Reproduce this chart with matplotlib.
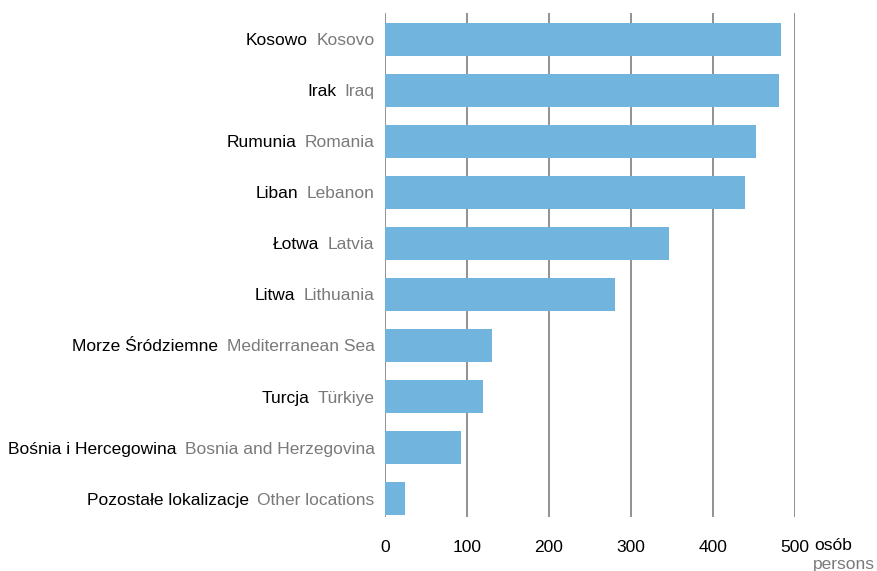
import matplotlib.pyplot as plt

plt.rcParams['font.family'] = ['Liberation Sans', 'DejaVu Sans']

labels_pl = ['Kosowo', 'Irak', 'Rumunia', 'Liban', 'Łotwa', 'Litwa',
             'Morze Śródziemne', 'Turcja', 'Bośnia i Hercegowina',
             'Pozostałe lokalizacje']
labels_en = ['Kosovo', 'Iraq', 'Romania', 'Lebanon', 'Latvia', 'Lithuania',
             'Mediterranean Sea', 'Türkiye', 'Bosnia and Herzegovina',
             'Other locations']
values = [483, 480, 452, 439, 346, 280, 130, 120, 93, 24]
ticks = [0, 100, 200, 300, 400, 500]

bar_color = '#71b4de'
grid_color = '#7f7f7f'
grey_text = '#7a7a7a'
fs = 12.5

fig = plt.figure(figsize=(8.78, 5.71), dpi=100)
ax = fig.add_axes([385 / 878, 54 / 571, 410 / 878, 504 / 571])

y = list(range(len(values)))
ax.barh(y, values, height=0.65, color=bar_color, zorder=2)
ax.set_xlim(0, 500)
ax.set_ylim(len(values) - 1 + 0.36, -0.52)

for t in ticks:
    ax.axvline(t, color=grid_color, lw=1.2, zorder=1)

for s in ax.spines.values():
    s.set_visible(False)

ax.set_yticks([])
ax.set_xticks(ticks)
ax.set_xticklabels([str(t) for t in ticks], fontsize=fs)
ax.tick_params(axis='x', length=0, pad=16.5)

for i in y:
    en = ax.annotate(labels_en[i], xy=(0, i), xycoords=('axes fraction', 'data'),
                     xytext=(-7.5, -1), textcoords='offset points',
                     ha='right', va='center', fontsize=fs, color=grey_text)
    ax.annotate(labels_pl[i], xy=(0, 0.5), xycoords=en,
                xytext=(-6, 0), textcoords='offset points',
                ha='right', va='center', fontsize=fs, color='black')

fig.text(814 / 878, 1 - 546 / 571, 'osób', ha='left', va='center', fontsize=fs)
fig.text(813 / 878, 1 - 564 / 571, 'persons', ha='left', va='center',
         fontsize=fs, color=grey_text)

fig.savefig('out.png', dpi=100)
